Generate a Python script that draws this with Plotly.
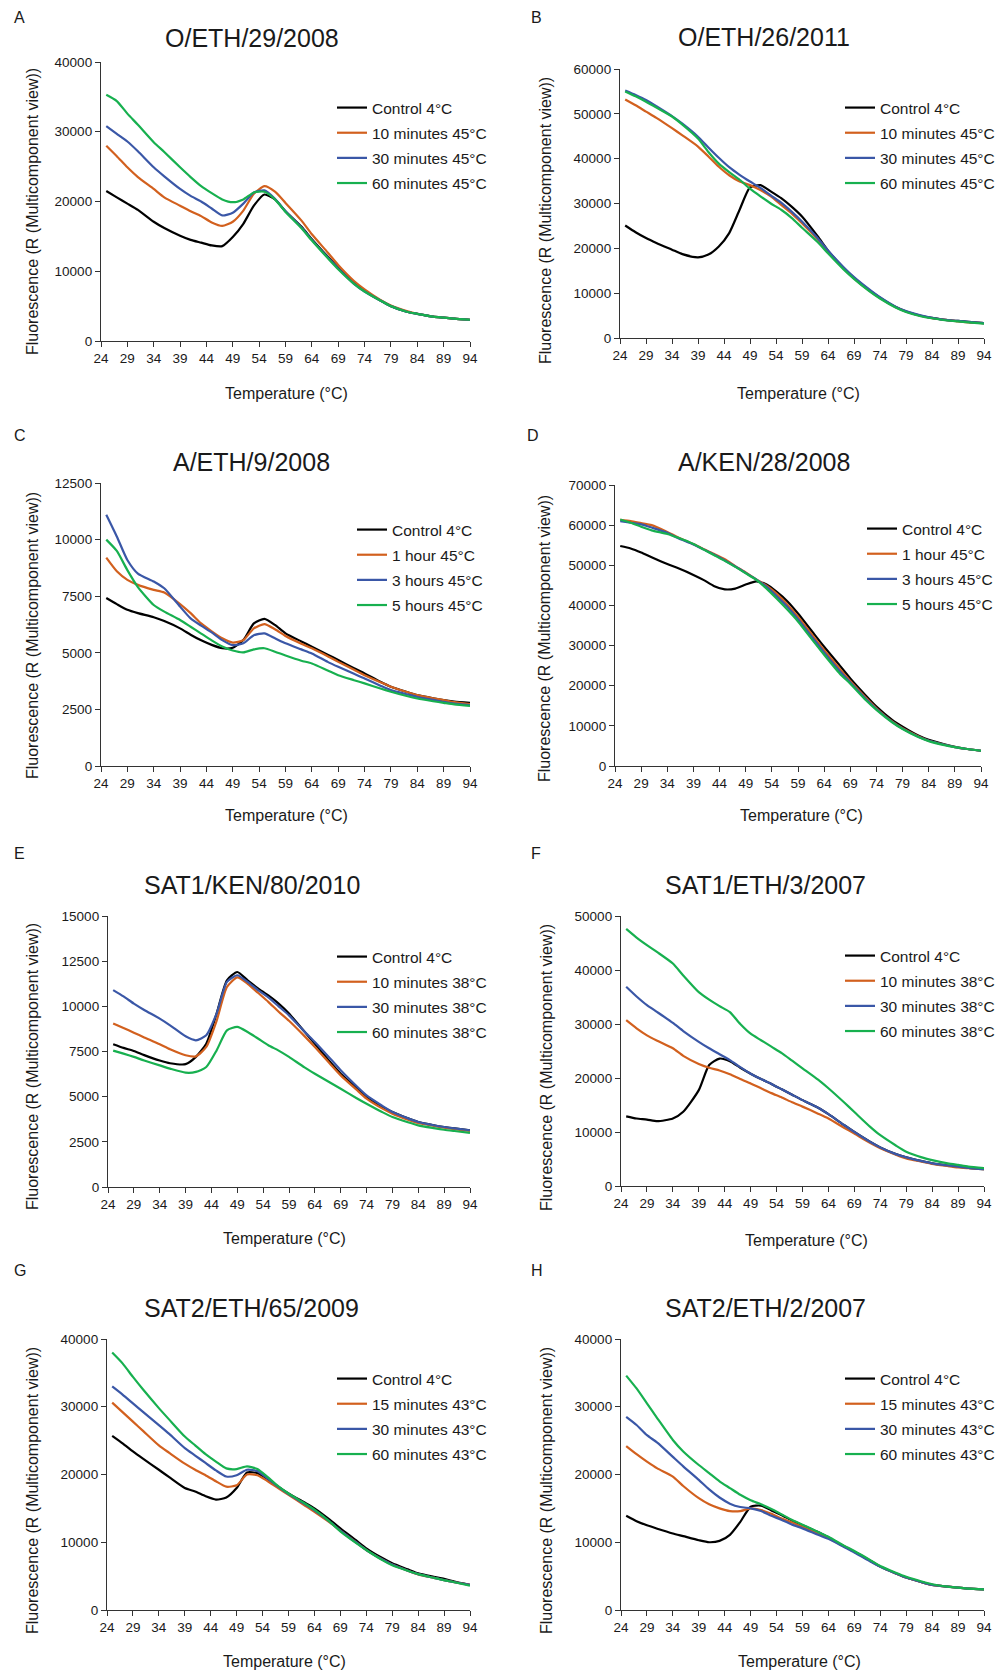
import plotly.graph_objects as go

# ---------------- data ----------------
T = [25, 27, 29, 31, 34, 36, 39, 41, 43, 45, 47, 49, 51, 53, 55, 57, 59, 62, 64, 67, 69, 72, 74, 77, 79, 82, 84, 87, 89, 91, 94]
x_ticks = [24, 29, 34, 39, 44, 49, 54, 59, 64, 69, 74, 79, 84, 89, 94]

A_control = [21500, 20600, 19700, 18800, 17100, 16200, 15100, 14500, 14100, 13700, 13600, 14900, 16800, 19400, 21000, 20300, 18600, 16400, 14600, 12100, 10500, 8300, 7200, 5800, 5000, 4200, 3900, 3500, 3350, 3200, 3050]
A_10min = [28000, 26500, 24900, 23500, 21800, 20600, 19400, 18600, 17900, 17000, 16500, 17100, 18700, 21100, 22200, 21400, 19800, 17300, 15300, 12700, 10900, 8600, 7400, 5900, 5100, 4300, 3900, 3500, 3350, 3200, 3050]
A_30min = [30800, 29700, 28600, 27200, 24900, 23600, 21800, 20800, 20000, 19000, 18000, 18400, 19700, 21300, 21600, 20400, 18600, 16300, 14500, 12000, 10400, 8200, 7100, 5800, 5000, 4200, 3900, 3500, 3350, 3200, 3050]
A_60min = [35300, 34400, 32600, 31000, 28500, 27100, 24900, 23500, 22200, 21200, 20300, 19900, 20300, 21300, 21400, 20300, 18500, 16200, 14400, 11900, 10300, 8200, 7100, 5800, 5000, 4200, 3900, 3500, 3350, 3200, 3050]

B_control = [25100, 23600, 22300, 21200, 19700, 18700, 18000, 18600, 20400, 23400, 28600, 33600, 34100, 32700, 31200, 29300, 27100, 22700, 19500, 15600, 13400, 10600, 9000, 6900, 5900, 4900, 4500, 4000, 3800, 3600, 3300]
B_10min = [53200, 51900, 50500, 49100, 46800, 45200, 42700, 40500, 38200, 36300, 34900, 34100, 33000, 31600, 29700, 27800, 25600, 22000, 19300, 15500, 13300, 10500, 8900, 6900, 5900, 4900, 4400, 4000, 3700, 3500, 3300]
B_30min = [55200, 54200, 53100, 51700, 49500, 47800, 44900, 42500, 40200, 38100, 36400, 34900, 33500, 31800, 30200, 28200, 26000, 22300, 19500, 15800, 13600, 10800, 9100, 7000, 6000, 5000, 4500, 4000, 3800, 3600, 3300]
B_60min = [55000, 53900, 52700, 51400, 49400, 47600, 44500, 41500, 38900, 37000, 35300, 33300, 31600, 30000, 28600, 26800, 24600, 21400, 18900, 15300, 13200, 10400, 8800, 6800, 5800, 4800, 4400, 3900, 3700, 3500, 3200]

C_control = [7420, 7150, 6900, 6750, 6570, 6400, 6080, 5800, 5550, 5350, 5200, 5220, 5560, 6300, 6500, 6230, 5860, 5500, 5270, 4920, 4680, 4320, 4090, 3720, 3500, 3270, 3130, 2990, 2910, 2850, 2790]
C_1h = [9200, 8600, 8220, 8000, 7780, 7660, 7150, 6750, 6300, 5950, 5640, 5450, 5560, 6080, 6270, 6040, 5740, 5400, 5200, 4850, 4600, 4250, 4010, 3700, 3500, 3270, 3130, 2990, 2910, 2820, 2730]
C_3h = [11100, 10140, 9100, 8500, 8150, 7850, 7040, 6520, 6200, 5900, 5560, 5340, 5420, 5780, 5860, 5640, 5420, 5150, 4970, 4600, 4380, 4070, 3870, 3550, 3350, 3170, 3050, 2920, 2830, 2760, 2690]
C_5h = [10000, 9500, 8650, 7900, 7110, 6820, 6450, 6150, 5850, 5550, 5280, 5100, 5020, 5150, 5200, 5050, 4880, 4650, 4530, 4220, 4010, 3790, 3650, 3420, 3280, 3090, 2980, 2860, 2790, 2720, 2660]

D_control = [54800, 54200, 53200, 52000, 50300, 49300, 47600, 46300, 44800, 44000, 44200, 45200, 46000, 45200, 43300, 41000, 38000, 33000, 29700, 25000, 21800, 17500, 14800, 11500, 9800, 7600, 6500, 5400, 4800, 4300, 3800]
D_1h = [61300, 61000, 60500, 60000, 58300, 57000, 55300, 54000, 52800, 51500, 49800, 48200, 46500, 44900, 42800, 40200, 37200, 32200, 28900, 24200, 21200, 17000, 14400, 11100, 9400, 7400, 6300, 5300, 4700, 4300, 3800]
D_3h = [61000, 60600, 60200, 59400, 58100, 56800, 55200, 53900, 52600, 51200, 49700, 48100, 46500, 44600, 42200, 39600, 36600, 31600, 28300, 23600, 20800, 16700, 14200, 11000, 9300, 7300, 6300, 5300, 4700, 4300, 3800]
D_5h = [61400, 60600, 59600, 58700, 57800, 56900, 55300, 53900, 52500, 51100, 49600, 48000, 46400, 44200, 41600, 38900, 36000, 31000, 27700, 23000, 20500, 16400, 14000, 10900, 9200, 7200, 6200, 5200, 4700, 4300, 3800]

E_control = [7900, 7700, 7530, 7300, 7000, 6850, 6800, 7200, 7930, 9600, 11440, 11900, 11440, 11000, 10600, 10150, 9600, 8600, 7930, 6900, 6270, 5500, 4980, 4450, 4150, 3800, 3600, 3420, 3320, 3240, 3140]
E_10min = [9050, 8800, 8540, 8280, 7900, 7620, 7290, 7230, 7750, 9200, 11070, 11600, 11250, 10750, 10250, 9700, 9200, 8350, 7750, 6800, 6180, 5400, 4890, 4350, 4060, 3730, 3540, 3380, 3280, 3200, 3100]
E_30min = [10900, 10550, 10150, 9800, 9320, 8950, 8340, 8120, 8400, 9600, 11350, 11720, 11350, 10900, 10500, 10000, 9500, 8600, 8030, 7100, 6460, 5600, 5070, 4500, 4150, 3800, 3600, 3420, 3320, 3240, 3140]
E_60min = [7550, 7380, 7200, 7000, 6730, 6550, 6330, 6370, 6640, 7560, 8670, 8860, 8580, 8220, 7850, 7550, 7200, 6620, 6270, 5770, 5440, 4930, 4610, 4150, 3870, 3580, 3410, 3260, 3170, 3100, 3000]

F_control = [12900, 12500, 12300, 12000, 12500, 13750, 17750, 22400, 23600, 23100, 21900, 20800, 19800, 18900, 17900, 16900, 15900, 14500, 13300, 11300, 10000, 8200, 7150, 5900, 5300, 4600, 4200, 3800, 3600, 3350, 3100]
F_10min = [30700, 29200, 27900, 26900, 25500, 24100, 22600, 21900, 21400, 20700, 19800, 19000, 18100, 17200, 16400, 15500, 14700, 13400, 12500, 10800, 9700, 8000, 7000, 5800, 5100, 4500, 4100, 3700, 3450, 3300, 3100]
F_30min = [36900, 35100, 33500, 32200, 30200, 28700, 26700, 25500, 24400, 23300, 22000, 20800, 19800, 18900, 17900, 16900, 15900, 14500, 13300, 11300, 10000, 8200, 7150, 5900, 5300, 4600, 4200, 3800, 3600, 3350, 3100]
F_60min = [47600, 46000, 44600, 43300, 41200, 39000, 35900, 34500, 33300, 32200, 30000, 28200, 27000, 25800, 24600, 23200, 21800, 19700, 18100, 15500, 13700, 11000, 9400, 7500, 6350, 5300, 4800, 4200, 3900, 3600, 3300]

G_control = [25700, 24600, 23400, 22300, 20700, 19600, 18000, 17500, 16800, 16300, 16600, 18000, 20300, 20200, 19300, 18200, 17200, 15900, 15000, 13300, 12050, 10300, 9100, 7700, 6900, 6000, 5400, 4900, 4600, 4200, 3700]
G_15min = [30600, 29200, 27800, 26400, 24300, 23200, 21600, 20700, 19900, 19000, 18200, 18400, 20000, 19900, 19000, 18000, 17000, 15500, 14500, 12900, 11700, 10000, 8850, 7500, 6700, 5800, 5250, 4750, 4400, 4100, 3700]
G_30min = [33000, 31800, 30500, 29200, 27300, 26000, 23900, 22800, 21700, 20600, 19700, 19900, 20700, 20500, 19400, 18200, 17100, 15700, 14700, 13000, 11700, 10000, 8850, 7500, 6700, 5800, 5300, 4750, 4400, 4100, 3700]
G_60min = [38000, 36400, 34400, 32500, 29800, 28100, 25600, 24300, 23000, 21900, 20900, 20800, 21200, 20800, 19600, 18300, 17200, 15800, 14800, 13000, 11600, 9900, 8850, 7400, 6600, 5800, 5300, 4750, 4400, 4100, 3600]

H_control = [13900, 13100, 12500, 12000, 11300, 10900, 10300, 10000, 10200, 11100, 13000, 15250, 15400, 14700, 14000, 13200, 12500, 11500, 10700, 9400, 8600, 7300, 6400, 5400, 4800, 4100, 3700, 3450, 3300, 3150, 3050]
H_15min = [24200, 23000, 21900, 20900, 19700, 18300, 16500, 15600, 15000, 14600, 14600, 15000, 14750, 14200, 13500, 12900, 12300, 11300, 10600, 9400, 8600, 7300, 6400, 5400, 4800, 4100, 3700, 3450, 3300, 3150, 3050]
H_30min = [28500, 27300, 25800, 24700, 22600, 21200, 19200, 17800, 16600, 15700, 15200, 15000, 14600, 13900, 13300, 12600, 12050, 11100, 10500, 9300, 8500, 7200, 6400, 5400, 4800, 4100, 3700, 3450, 3300, 3150, 3050]
H_60min = [34600, 32700, 30500, 28300, 25100, 23400, 21400, 20200, 19000, 18000, 17000, 16200, 15600, 14900, 14100, 13300, 12600, 11500, 10800, 9500, 8700, 7400, 6500, 5500, 4900, 4200, 3800, 3450, 3300, 3150, 3050]

labels_45min = ["Control 4°C", "10 minutes 45°C", "30 minutes 45°C", "60 minutes 45°C"]
labels_45h = ["Control 4°C", "1 hour 45°C", "3 hours 45°C", "5 hours 45°C"]
labels_38 = ["Control 4°C", "10 minutes 38°C", "30 minutes 38°C", "60 minutes 38°C"]
labels_43 = ["Control 4°C", "15 minutes 43°C", "30 minutes 43°C", "60 minutes 43°C"]

titles = ["O/ETH/29/2008", "O/ETH/26/2011", "A/ETH/9/2008", "A/KEN/28/2008",
          "SAT1/KEN/80/2010", "SAT1/ETH/3/2007", "SAT2/ETH/65/2009", "SAT2/ETH/2/2007"]
letters = ["A", "B", "C", "D", "E", "F", "G", "H"]

panel_series = [
    [A_control, A_10min, A_30min, A_60min],
    [B_control, B_10min, B_30min, B_60min],
    [C_control, C_1h, C_3h, C_5h],
    [D_control, D_1h, D_3h, D_5h],
    [E_control, E_10min, E_30min, E_60min],
    [F_control, F_10min, F_30min, F_60min],
    [G_control, G_15min, G_30min, G_60min],
    [H_control, H_15min, H_30min, H_60min],
]
panel_labels = [labels_45min, labels_45min, labels_45h, labels_45h, labels_38, labels_38, labels_43, labels_43]
y_max = [40000, 60000, 12500, 70000, 15000, 50000, 40000, 40000]
y_step = [10000, 10000, 2500, 10000, 2500, 10000, 10000, 10000]

# ---------------- layout (page pixels) ----------------
W, H = 996, 1673
colors = ["#000000", "#D2601E", "#3A57A7", "#17B04F"]
FONT = "Liberation Sans, Arial, sans-serif"
TXT = "#1a1a1a"

# plot area boxes: x0, x1, y_top, y_bottom
boxes = [
    (101, 470, 62, 341), (620, 984, 69, 338),
    (101, 470, 483, 766), (615, 981, 485, 766),
    (108, 470, 916, 1187), (621, 984, 916, 1186),
    (107, 470, 1339, 1610), (621, 984, 1339, 1610),
]
title_pos = [(252, 38), (764, 37), (251, 462), (764, 462), (252, 885), (765, 885), (252, 1308), (765, 1308)]
xtitle_pos = [(286, 393), (798, 393), (286, 815), (801, 815), (284, 1238), (806, 1240), (284, 1661), (799, 1661)]
ytitle_pos = [(32, 212), (546, 221), (32, 636), (545, 639), (32, 1067), (546, 1068), (32, 1491), (546, 1491)]
letter_pos = [(12, 17), (529, 17), (12, 435), (525, 435), (12, 853), (529, 853), (12, 1270), (529, 1270)]
legend_pos = [(337, 107), (845, 107), (357, 529), (867, 528), (337, 956), (845, 955), (337, 1378), (845, 1378)]

def px(x):
    return x / W

def py(y):
    return 1 - y / H

fig = go.Figure()
layout = dict(
    width=W, height=H, margin=dict(l=0, r=0, t=0, b=0, autoexpand=False),
    paper_bgcolor="white", plot_bgcolor="white",
    font=dict(family=FONT, color=TXT),
    showlegend=True,
)
annotations = []

for i in range(8):
    n = "" if i == 0 else str(i + 1)
    xa, ya = "x" + n, "y" + n
    leg = "legend" + n
    x0, x1, yt, yb = boxes[i]
    layout["xaxis" + n] = dict(
        domain=[px(x0), px(x1)], anchor=ya, range=[24, 94], automargin=False,
        tickvals=x_ticks, ticks="outside", ticklen=5, tickwidth=1.2, tickcolor="#333",
        showline=True, linecolor="#333", linewidth=1.3, showgrid=False, zeroline=False,
        tickfont=dict(size=13.5, color=TXT, family=FONT),
    )
    layout["yaxis" + n] = dict(
        domain=[py(yb), py(yt)], anchor=xa, range=[0, y_max[i]], automargin=False,
        tick0=0, dtick=y_step[i], tickformat="d",
        ticks="outside", ticklen=5, tickwidth=1.2, tickcolor="#333",
        showline=True, linecolor="#333", linewidth=1.3, showgrid=False, zeroline=False,
        tickfont=dict(size=13.5, color=TXT, family=FONT),
    )
    lx, ly = legend_pos[i]
    layout[leg] = dict(
        x=px(lx - 5), y=py(ly - 16), xanchor="left", yanchor="top",
        bgcolor="rgba(0,0,0,0)", borderwidth=0,
        font=dict(size=15.5, color=TXT, family=FONT),
        itemwidth=30, tracegroupgap=2, traceorder="grouped",
    )
    for k in range(4):
        fig.add_trace(go.Scatter(
            x=T, y=panel_series[i][k], mode="lines", name=panel_labels[i][k],
            line=dict(color=colors[k], width=2.2, shape="spline", smoothing=0.6),
            xaxis=xa, yaxis=ya, legend=leg, legendgroup=f"p{i}s{k}",
        ))
    tx, ty = title_pos[i]
    annotations.append(dict(x=px(tx), y=py(ty), xref="paper", yref="paper", text=titles[i],
                            showarrow=False, xanchor="center", yanchor="middle",
                            font=dict(size=25, color=TXT, family=FONT)))
    ax_, ay_ = xtitle_pos[i]
    annotations.append(dict(x=px(ax_), y=py(ay_), xref="paper", yref="paper", text="Temperature (°C)",
                            showarrow=False, xanchor="center", yanchor="middle",
                            font=dict(size=16, color=TXT, family=FONT)))
    bx, by = ytitle_pos[i]
    annotations.append(dict(x=px(bx), y=py(by), xref="paper", yref="paper",
                            text="Fluorescence (R (Multicomponent view))", textangle=-90,
                            showarrow=False, xanchor="center", yanchor="middle",
                            font=dict(size=16, color=TXT, family=FONT)))
    lx2, ly2 = letter_pos[i]
    annotations.append(dict(x=px(lx2), y=py(ly2), xref="paper", yref="paper", text=letters[i],
                            showarrow=False, xanchor="left", yanchor="middle",
                            font=dict(size=16, color=TXT, family=FONT)))

layout["annotations"] = annotations
fig.update_layout(**layout)
# remove the default page margin / scrollbars so the figure fills the window exactly
fig.write_html("out.html",
               config={"displayModeBar": False},
               post_script="document.body.style.margin='0';document.body.style.overflow='hidden';")
